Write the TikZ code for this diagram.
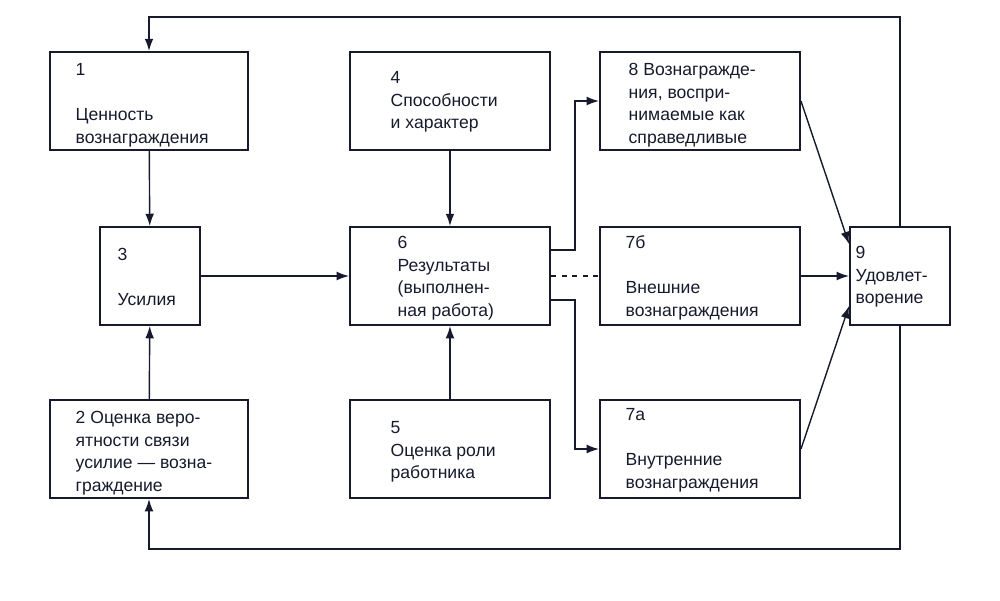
\documentclass[tikz,border=0pt]{standalone}
\usepackage{fontspec}
\setmainfont{Liberation Sans}
\usetikzlibrary{positioning,arrows.meta}

\begin{document}
\begin{tikzpicture}[x=0.02cm,y=-0.02cm,
    box/.style={draw,line width=1.1pt,minimum width=#1*0.02cm,minimum height=1.96cm,inner sep=0pt},
    box/.default=198,
    txt/.style={anchor=north west,inner sep=0pt,align=left,font=\fontsize{10}{12.8}\selectfont},
    link/.style={line width=0.8pt,-{Latex[length=7pt,width=5pt]}},
    line width=0.8pt, color={rgb,255:red,22;green,26;blue,44}]
    \useasboundingbox (0,0) rectangle (1000,600);
    % boxes
    \node[box] (b1) at (149,101) {};
    \node[box=100] (b3) at (150,276) {};
    \node[box] (b2) at (149,449) {};
    \node[box=200] (b4) at (450,101) {};
    \node[box=200] (b6) at (450,276) {};
    \node[box=200] (b5) at (450,449) {};
    \node[box=200] (b8) at (700,101) {};
    \node[box=200] (b7b) at (700,276) {};
    \node[box=200] (b7a) at (700,449) {};
    \node[box=100] (b9) at (900,276) {};
    % texts
    \node[txt] (t1) at (75,63) {1\\ \\Ценность\\вознаграждения};
    \node[txt] (t3) at (117,248) {3\\ \\Усилия};
    \node[txt] (t2) at (75,411) {2 Оценка веро-\\ятности связи\\усилие --- возна-\\граждение};
    \node[txt] (t4) at (390,71) {4\\Способности\\и характер};
    \node[txt] (t6) at (397,236) {6\\Результаты\\(выполнен-\\ная работа)};
    \node[txt] (t5) at (390,421) {5\\Оценка роли\\работника};
    \node[txt] (t8) at (628,63) {8 Вознагражде-\\ния, воспри-\\нимаемые как\\справедливые};
    \node[txt] (t7b) at (625,235) {7б\\ \\Внешние\\вознаграждения};
    \node[txt] (t7a) at (625,408) {7а\\ \\Внутренние\\вознаграждения};
    \node[txt] (t9) at (855,246) {9\\Удовлет-\\ворение};
    % connectors
    \coordinate (c1) at (575,250);
    \coordinate (c2) at (575,300);
    \draw[link] (b1) -- (b3);
    \draw[link] (b2) -- (b3);
    \draw[link] (b3) -- (b6);
    \draw[link] (b4) -- (b6);
    \draw[link] (b5) -- (b6);
    \draw[link] (b6.east |- c1) -- (c1) |- (b8.west);
    \draw[link] (b6.east |- c2) -- (c2) |- (b7a.west);
    \draw[dashed] (b6.east) -- (b7b.west);
    \draw[link] (b8.east) -- ([yshift=-0.36cm]b9.north west);
    \draw[link] (b7b) -- (b9);
    \draw[link] (b7a.east) -- ([yshift=0.4cm]b9.south west);
    \draw[link] (b9.north) -- ++(0,-209) -| (b1.north);
    \draw[link] (b9.south) -- ++(0,223) -| (b2.south);
\end{tikzpicture}
\end{document}
